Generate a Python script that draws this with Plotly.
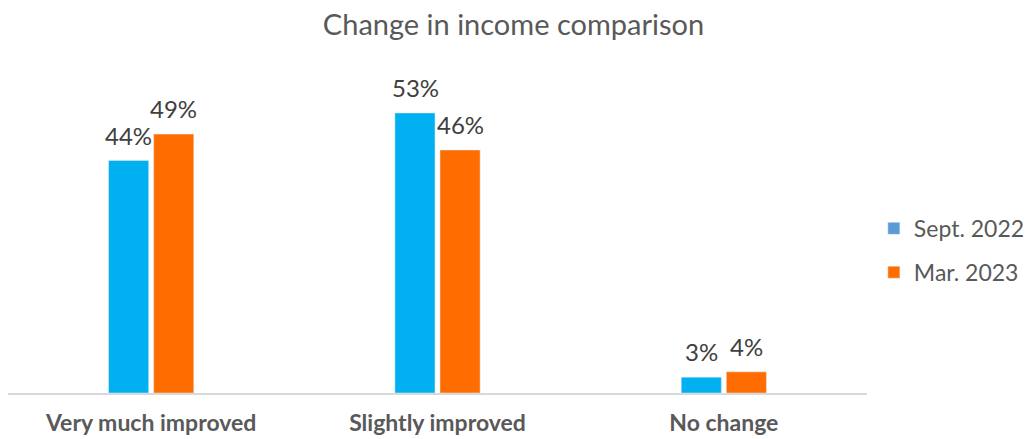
import plotly.graph_objects as go

categories = ["Very much improved", "Slightly improved", "No change"]
sept_2022 = [44, 53, 3]
mar_2023 = [49, 46, 4]
series_names = ["Sept. 2022", "Mar. 2023"]

bar_colors = ["#00B0F0", "#FF6D00"]
legend_colors = ["#5B9BD5", "#FF6D00"]
groups = ["a", "b"]
label_shift = [-22.5, 22.5]

fig = go.Figure()
for name, vals, bc, g in zip(series_names, [sept_2022, mar_2023], bar_colors, groups):
    fig.add_trace(go.Bar(
        x=categories, y=vals, name=name, marker_color=bc, offsetgroup=g,
        showlegend=False, hovertemplate="%{x}: %{y}%<extra>" + name + "</extra>",
    ))
for name, lc, g in zip(series_names, legend_colors, groups):
    fig.add_trace(go.Bar(
        x=[categories[0]], y=[None], name=name, marker_color=lc, offsetgroup=g,
        legendgroup=g, showlegend=True, hoverinfo="skip",
    ))

for vals, dx in zip([sept_2022, mar_2023], label_shift):
    for c, v in zip(categories, vals):
        fig.add_annotation(x=c, y=v, xref="x", yref="y", text=f"{v}%",
                           showarrow=False, xshift=dx, yshift=9,
                           yanchor="bottom", xanchor="center",
                           font=dict(size=24, color="#404040", family="Lato"))

fig.update_layout(
    width=1027, height=439,
    margin=dict(l=8, r=160, t=76, b=46, autoexpand=False),
    paper_bgcolor="white", plot_bgcolor="white",
    title=dict(text="Change in income comparison", x=0.5, xanchor="center",
               y=0.943, yanchor="middle",
               font=dict(size=29, color="#595959", family="Lato")),
    barmode="group", bargap=0.685, bargroupgap=0.11,
    font=dict(family="Lato", color="#595959"),
    legend=dict(x=1.008, y=0.45, xanchor="left", yanchor="middle",
                font=dict(size=23, color="#595959", family="Lato"),
                tracegroupgap=11, itemwidth=30),
    showlegend=True,
)
fig.update_xaxes(showline=True, linecolor="#D9D9D9", linewidth=2,
                 tickfont=dict(size=23, color="#595959", family="Lato", weight="bold"),
                 ticklabelstandoff=8,
                 ticks="", showgrid=False)
fig.update_yaxes(range=[0, 60], visible=False, showgrid=False)

fig.write_html("out.html")
